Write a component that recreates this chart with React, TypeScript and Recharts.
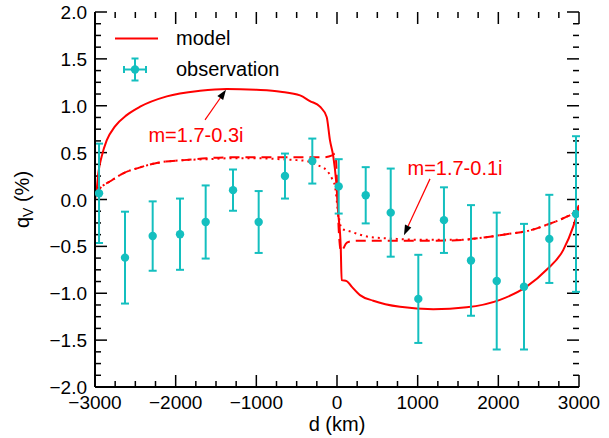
import React from "react";
import {
  ComposedChart,
  Line,
  Scatter,
  ErrorBar,
  XAxis,
  YAxis,
  ReferenceLine,
  ReferenceDot,
  Legend,
} from "recharts";

const RED = "#ff0000";
const CYAN = "#14bfbf";
const FONT = "'Liberation Sans', Arial, sans-serif";

// model, m=1.7-0.3i (solid)
const solidX = [-3000, -2980, -2959, -2917, -2855, -2752, -2607, -2441, -2110, -1698, -1367, -1000, -700, -458, -335, -211, -128, -87, -46, -12, 16, 46, 58, 120, 182, 285, 450, 781, 1193, 1607, 2020, 2350, 2598, 2804, 2928, 3000];
const solidY = [0.0, 0.1, 0.28, 0.46, 0.63, 0.78, 0.9, 0.99, 1.1, 1.16, 1.18, 1.17, 1.15, 1.11, 1.05, 0.99, 0.88, 0.63, 0.46, 0.21, -0.15, -0.5, -0.86, -0.87, -0.93, -1.02, -1.08, -1.145, -1.17, -1.15, -1.07, -0.93, -0.75, -0.54, -0.29, -0.08];

// model, m=1.7-0.1i (dashed)
const dashX = [-3000, -2937, -2800, -2648, -2450, -2234, -1900, -1615, -1300, -995, -700, -375, -170, -60, -20, 0, 20, 50, 80, 111, 150, 244, 530, 900, 1200, 1561, 1870, 2100, 2390, 2600, 2804, 2970, 3000];
const dashY = [0.05, 0.12, 0.2, 0.28, 0.34, 0.39, 0.42, 0.44, 0.45, 0.45, 0.45, 0.45, 0.45, 0.47, 0.49, 0.2, -0.3, -0.55, -0.52, -0.47, -0.45, -0.44, -0.44, -0.44, -0.44, -0.43, -0.4, -0.37, -0.33, -0.27, -0.2, -0.11, -0.06];

// model, m=1.7-0.1i (dotted)
const dotX = [-3000, -2937, -2800, -2648, -2450, -2234, -1900, -1615, -1300, -995, -700, -500, -375, -252, -128, -66, -25, 16, 58, 161, 409, 740, 1000, 1500, 1870, 2100, 2390, 2600, 2804, 2970, 3000];
const dotY = [0.05, 0.12, 0.2, 0.28, 0.34, 0.39, 0.42, 0.43, 0.44, 0.44, 0.43, 0.42, 0.41, 0.37, 0.31, 0.23, 0.14, -0.15, -0.31, -0.34, -0.4, -0.42, -0.43, -0.43, -0.4, -0.37, -0.33, -0.27, -0.2, -0.11, -0.06];

// observation
const obsX = [-2950, -2628, -2285, -1946, -1628, -1289, -971, -645, -306, 21, 356, 666, 1008, 1326, 1661, 1980, 2318, 2632, 2963];
const obsY = [0.066, -0.62, -0.39, -0.37, -0.24, 0.1, -0.24, 0.25, 0.41, 0.14, 0.045, -0.14, -1.06, -0.22, -0.65, -0.87, -0.93, -0.42, -0.155];
const obsErr = [0.53, 0.49, 0.37, 0.38, 0.39, 0.22, 0.33, 0.24, 0.24, 0.29, 0.3, 0.47, 0.47, 0.35, 0.59, 0.73, 0.67, 0.47, 0.83];

const xMajor = [-3000, -2000, -1000, 0, 1000, 2000, 3000];
const yMajor = [-2, -1.5, -1, -0.5, 0, 0.5, 1, 1.5, 2];

const subdivide = (major: number[], n: number) => {
  const out: number[] = [];
  for (let i = 0; i < major.length - 1; i++) {
    const step = (major[i + 1] - major[i]) / n;
    for (let k = 1; k < n; k++) out.push(major[i] + k * step);
  }
  return out;
};
const xMinor = subdivide(xMajor, 4);
const yMinor = subdivide(yMajor, 4);

const zip = (xs: number[], ys: number[]) => xs.map((x, i) => ({ x, y: ys[i] }));
const solidData = zip(solidX, solidY);
const dashData = zip(dashX, dashY);
const dotData = zip(dotX, dotY);
const obsData = obsX.map((x, i) => ({ x, y: obsY[i], err: obsErr[i] }));

const minus = (s: string) => s.replace("-", "\u2212");
const AXIS_LINE = { stroke: "#000", strokeWidth: 2 };

function BottomLabel({ x, y, payload }: any) {
  return (
    <text x={x} y={y + 22} textAnchor="middle" fontSize={19} fontFamily={FONT} fill="#000">
      {minus(String(payload.value))}
    </text>
  );
}

function LeftLabel({ x, y, payload }: any) {
  return (
    <text x={x - 8} y={y + 7} textAnchor="end" fontSize={19} fontFamily={FONT} fill="#000">
      {minus(payload.value.toFixed(1))}
    </text>
  );
}

// inward tick marks at both ends of a full-height / full-width reference line
const xTick = (len: number) => ({ x1, y1, y2 }: any) => {
  const top = Math.min(y1, y2);
  const bot = Math.max(y1, y2);
  return (
    <g stroke="#000" strokeWidth={1.5}>
      <line x1={x1} x2={x1} y1={bot} y2={bot - len} />
      <line x1={x1} x2={x1} y1={top} y2={top + len} />
    </g>
  );
};
const yTick = (len: number) => ({ x1, x2, y1 }: any) => {
  const l = Math.min(x1, x2);
  const r = Math.max(x1, x2);
  return (
    <g stroke="#000" strokeWidth={1.5}>
      <line x1={l} x2={l + len} y1={y1} y2={y1} />
      <line x1={r} x2={r - len} y1={y1} y2={y1} />
    </g>
  );
};
const XMajorTick = xTick(12);
const XMinorTick = xTick(6);
const YMajorTick = yTick(12);
const YMinorTick = yTick(6);

function Arrow({ x1, y1, x2, y2 }: any) {
  const a = Math.atan2(y2 - y1, x2 - x1);
  const len = 10;
  const hw = 3.5;
  const bx = x2 - len * Math.cos(a);
  const by = y2 - len * Math.sin(a);
  const px = -Math.sin(a) * hw;
  const py = Math.cos(a) * hw;
  return (
    <g>
      <line x1={x1} y1={y1} x2={bx} y2={by} stroke={RED} strokeWidth={1.2} />
      <polygon points={`${x2},${y2} ${bx + px},${by + py} ${bx - px},${by - py}`} fill="#000" />
    </g>
  );
}

function LegendContent() {
  return (
    <div style={{ fontFamily: FONT, fontSize: 20, color: "#000", lineHeight: "31px" }}>
      <div style={{ display: "flex", alignItems: "center", height: 31 }}>
        <svg width={64} height={31}>
          <line x1={3} x2={46} y1={15.5} y2={15.5} stroke={RED} strokeWidth={2} />
        </svg>
        <span>model</span>
      </div>
      <div style={{ display: "flex", alignItems: "center", height: 31 }}>
        <svg width={64} height={31}>
          <g stroke={CYAN} strokeWidth={2}>
            <line x1={12} x2={34} y1={15.5} y2={15.5} />
            <line x1={23} x2={23} y1={4.5} y2={26.5} />
            <line x1={12} x2={12} y1={12} y2={19} />
            <line x1={34} x2={34} y1={12} y2={19} />
            <line x1={19.5} x2={26.5} y1={4.5} y2={4.5} />
            <line x1={19.5} x2={26.5} y1={26.5} y2={26.5} />
          </g>
          <circle cx={23} cy={15.5} r={4.2} fill={CYAN} />
        </svg>
        <span>observation</span>
      </div>
    </div>
  );
}

function YLabel(props: any) {
  const vb = props.viewBox;
  const cy = vb.y + vb.height / 2;
  return (
    <text
      transform={`translate(29, ${cy}) rotate(-90)`}
      textAnchor="middle"
      fontSize={20}
      fontFamily={FONT}
      fill="#000"
    >
      q
      <tspan fontSize={14} dy={4}>V</tspan>
      <tspan dy={-4}> (%)</tspan>
    </text>
  );
}

const xCommon = {
  dataKey: "x",
  type: "number" as const,
  domain: [-3000, 3000],
  allowDataOverflow: true,
  interval: 0 as const,
  ticks: xMajor,
  tickSize: 0,
  tickMargin: 0,
  tickLine: false,
  axisLine: AXIS_LINE,
};
const yCommon = {
  dataKey: "y",
  type: "number" as const,
  domain: [-2, 2],
  allowDataOverflow: true,
  interval: 0 as const,
  ticks: yMajor,
  tickSize: 0,
  tickMargin: 0,
  tickLine: false,
  axisLine: AXIS_LINE,
};

export default function App() {
  return (
    <div style={{ width: 609, height: 438, background: "#fff" }}>
      <style>{`body{margin:0;background:#fff}`}</style>
      <ComposedChart
        width={609}
        height={438}
        margin={{ top: 12, right: 30, bottom: 0, left: 0 }}
      >
        <XAxis
          {...xCommon}
          tick={BottomLabel}
          height={51}
          label={{
            value: "d (km)",
            position: "insideBottom",
            offset: 7,
            fontSize: 20,
            fontFamily: FONT,
            fill: "#000",
          }}
        />
        <XAxis {...xCommon} xAxisId="top" orientation="top" tick={false} height={0} />
        <YAxis {...yCommon} tick={LeftLabel} width={95} label={{ content: YLabel }} />
        <YAxis {...yCommon} yAxisId="right" orientation="right" tick={false} width={0} />

        {xMajor.map((v) => (
          <ReferenceLine key={`xM${v}`} x={v} ifOverflow="visible" shape={XMajorTick} />
        ))}
        {xMinor.map((v) => (
          <ReferenceLine key={`xm${v}`} x={v} ifOverflow="visible" shape={XMinorTick} />
        ))}
        {yMajor.map((v) => (
          <ReferenceLine key={`yM${v}`} y={v} ifOverflow="visible" shape={YMajorTick} />
        ))}
        {yMinor.map((v) => (
          <ReferenceLine key={`ym${v}`} y={v} ifOverflow="visible" shape={YMinorTick} />
        ))}

        <Line
          data={dotData}
          dataKey="y"
          xAxisId="top"
          yAxisId="right"
          type="monotone"
          stroke={RED}
          strokeWidth={2}
          strokeDasharray="2 4"
          dot={false}
          isAnimationActive={false}
          legendType="none"
        />
        <Line
          data={dashData}
          dataKey="y"
          type="monotone"
          stroke={RED}
          strokeWidth={2}
          strokeDasharray="10 6"
          dot={false}
          isAnimationActive={false}
          legendType="none"
        />
        <Line
          data={solidData}
          dataKey="y"
          type="monotone"
          stroke={RED}
          strokeWidth={2}
          dot={false}
          isAnimationActive={false}
          name="model"
        />
        <Scatter
          data={obsData}
          dataKey="y"
          fill={CYAN}
          isAnimationActive={false}
          name="observation"
          shape={(p: any) => <circle cx={p.cx} cy={p.cy} r={4.2} fill={CYAN} />}
        >
          <ErrorBar dataKey="err" direction="y" width={4} stroke={CYAN} strokeWidth={2} />
        </Scatter>
        <ReferenceLine
          segment={[{ x: -1636, y: 0.85 }, { x: -1376, y: 1.17 }]}
          shape={Arrow}
        />
        <ReferenceLine
          segment={[{ x: 1153, y: 0.22 }, { x: 830, y: -0.38 }]}
          shape={Arrow}
        />
        <ReferenceDot
          x={-1748}
          y={0.69}
          r={0}
          stroke="none"
          label={{ value: "m=1.7-0.3i", position: "center", fill: RED, fontSize: 20, fontFamily: FONT }}
        />
        <ReferenceDot
          x={1463}
          y={0.336}
          r={0}
          stroke="none"
          label={{ value: "m=1.7-0.1i", position: "center", fill: RED, fontSize: 20, fontFamily: FONT }}
        />
        <Legend
          layout="vertical"
          align="center"
          verticalAlign="middle"
          content={<LegendContent />}
          wrapperStyle={{ left: 112, top: 23, width: "auto" }}
        />
      </ComposedChart>
    </div>
  );
}
